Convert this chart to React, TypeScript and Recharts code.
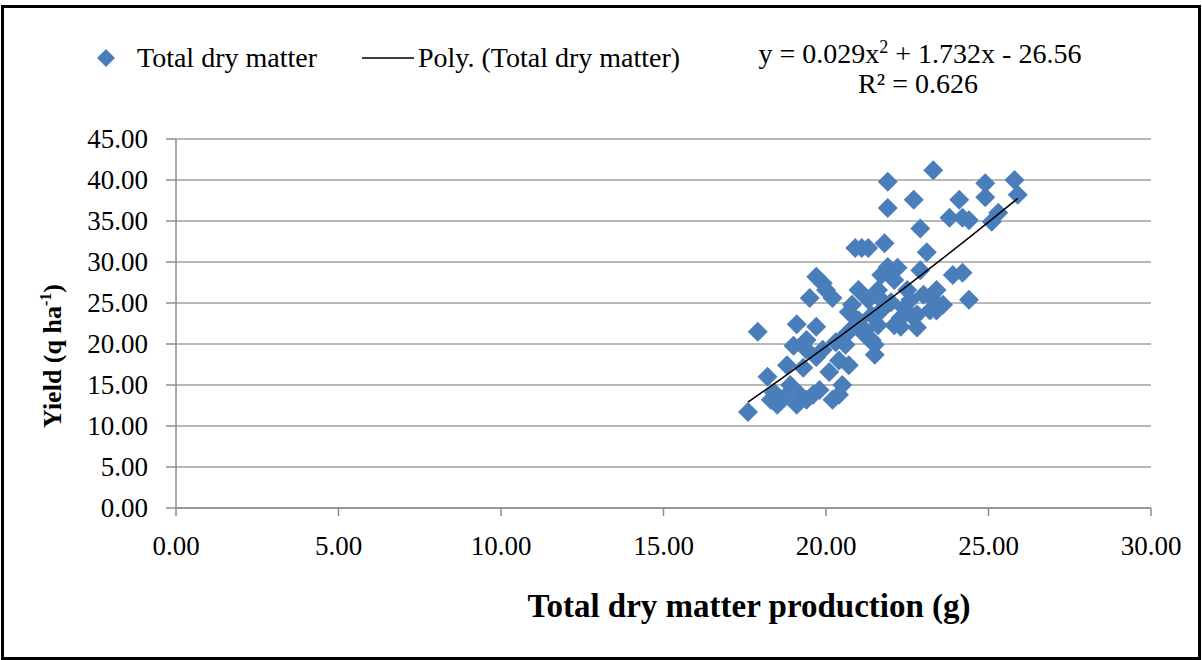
import React from "react"
import { ScatterChart, Scatter, XAxis, YAxis, CartesianGrid } from "recharts"

// total dry matter (g) vs yield (q/ha)
const dryMatter = [
  17.6, 17.9, 18.2, 18.4, 18.5, 18.6, 18.8, 18.9, 19.0, 19.1, 19.1, 19.2, 19.3, 19.4, 19.4, 19.5,
  19.7, 19.7, 19.7, 19.8, 19.9, 20.0, 20.1, 20.2, 20.2, 20.3, 20.4, 20.5, 20.6, 20.7, 20.7, 20.8,
  20.9, 21.0, 21.0, 21.1, 21.2, 21.3, 21.3, 21.4, 21.4, 21.5, 21.6, 21.7, 21.7, 21.8, 21.9, 21.9,
  21.9, 22.0, 22.1, 22.1, 22.2, 22.3, 22.4, 22.5, 22.6, 22.7, 22.7, 22.8, 22.9, 22.9, 23.0, 23.1,
  23.2, 23.3, 23.3, 23.4, 23.6, 23.8, 23.9, 24.1, 24.2, 24.2, 24.4, 24.4, 24.9, 24.9, 25.1, 25.3,
  25.8, 25.9, 18.3, 18.7, 19.4, 20.6, 21.2, 21.5, 21.6, 22.3, 22.8, 23.4, 21.7, 20.9, 19.9, 20.4,
  19.6,
]
const yieldQ = [
  11.7, 21.5, 16.0, 14.1, 12.6, 13.2, 17.4, 15.0, 19.8, 22.4, 12.6, 13.8, 17.1, 13.2, 19.3, 25.6,
  28.2, 22.1, 18.4, 14.4, 27.4, 26.6, 16.6, 25.6, 13.2, 20.2, 18.0, 15.0, 21.1, 23.9, 17.4, 24.8,
  31.7, 26.6, 22.9, 31.7, 21.7, 31.7, 25.4, 20.5, 23.5, 18.7, 26.6, 24.1, 28.4, 32.3, 36.6, 39.8,
  29.4, 25.1, 22.3, 27.8, 29.3, 22.1, 24.4, 26.6, 25.4, 37.6, 23.2, 22.0, 34.1, 29.0, 26.0, 31.2,
  24.1, 41.2, 25.4, 26.6, 24.8, 35.4, 28.4, 37.6, 28.7, 35.4, 25.4, 35.1, 39.6, 37.9, 34.9, 36.0,
  40.0, 38.2, 13.2, 13.4, 20.5, 19.9, 21.1, 19.9, 22.3, 23.2, 23.6, 24.1, 25.4, 22.3, 19.3, 13.8,
  13.8,
]

// Excel trendline shown in the chart
const polyCoef = [0.029, 1.732, -26.56]
const trendX = [17.6, 18.5, 19.5, 20.5, 21.5, 22.5, 23.5, 24.5, 25.9]

const xTicks = [0, 5, 10, 15, 20, 25, 30]
const yTicks = [0, 5, 10, 15, 20, 25, 30, 35, 40, 45]

const points = dryMatter.map((x, i) => ({ x, y: yieldQ[i] }))
const trend = trendX.map((x) => ({ x, y: polyCoef[0] * x * x + polyCoef[1] * x + polyCoef[2] }))

const BLUE = "#4a7ebb"
const FONT = "Liberation Serif"

const Diamond = (props: any) => {
  const { cx, cy } = props
  const r = 10
  return <polygon points={`${cx},${cy - r} ${cx + r},${cy} ${cx},${cy + r} ${cx - r},${cy}`} fill={BLUE} />
}

const NoDot = () => <g />

const XTick = (props: any) => {
  const { x, y, payload } = props
  return (
    <text x={x} y={y} dy={19} textAnchor="middle" fontSize={27} fontFamily={FONT} fill="#000">
      {payload.value.toFixed(2)}
    </text>
  )
}

const YTick = (props: any) => {
  const { x, y, payload } = props
  return (
    <text x={x} y={y} dy={9} textAnchor="end" fontSize={27} fontFamily={FONT} fill="#000">
      {payload.value.toFixed(2)}
    </text>
  )
}

export default function App() {
  return (
    <div style={{ position: "absolute", left: 0, top: 0, width: 1202, height: 660, background: "#fff" }}>
      <div style={{ position: "absolute", left: 1, top: 5, width: 1194, height: 649, border: "3px solid #000" }} />
      <ScatterChart width={1202} height={660} margin={{ top: 139, right: 51, left: 76, bottom: 92 }}>
        <CartesianGrid horizontal vertical={false} stroke="#a0a0a0" strokeWidth={1.5} />
        <XAxis
          type="number"
          dataKey="x"
          domain={[0, 30]}
          ticks={xTicks}
          height={60}
          tick={<XTick />}
          tickSize={8}
          tickMargin={20}
          stroke="#8c8c8c"
          strokeWidth={1.5}
        />
        <YAxis
          type="number"
          dataKey="y"
          domain={[0, 45]}
          ticks={yTicks}
          width={100}
          tick={<YTick />}
          tickSize={10}
          tickMargin={18}
          stroke="#8c8c8c"
          strokeWidth={1.5}
        />
        <Scatter data={points} fill={BLUE} shape={<Diamond />} isAnimationActive={false} />
        <Scatter data={trend} line={{ stroke: "#000", strokeWidth: 1.5 }} shape={<NoDot />} isAnimationActive={false} />
      </ScatterChart>
      <svg width={1202} height={660} style={{ position: "absolute", left: 0, top: 0, pointerEvents: "none" }}>
        <polygon points="106,49 115,58 106,67 97,58" fill={BLUE} />
        <text x={137} y={67} fontSize={28} fontFamily={FONT}>Total dry matter</text>
        <line x1={362} y1={58} x2={414} y2={58} stroke="#000" strokeWidth={1.5} />
        <text x={418} y={67} fontSize={28} fontFamily={FONT}>Poly. (Total dry matter)</text>
        <text x={920} y={63} fontSize={28} fontFamily={FONT} textAnchor="middle">
          y = 0.029x<tspan dy={-10} fontSize={18}>2</tspan><tspan dy={10}> + 1.732x - 26.56</tspan>
        </text>
        <text x={918} y={93} fontSize={28} fontFamily={FONT} textAnchor="middle">R² = 0.626</text>
        <text
          transform="translate(61,356) rotate(-90)"
          fontSize={26}
          fontWeight="bold"
          fontFamily={FONT}
          textAnchor="middle"
        >
          Yield (q ha<tspan dy={-10} fontSize={16}>-1</tspan><tspan dy={10}>)</tspan>
        </text>
        <text x={749} y={617} fontSize={33} fontWeight="bold" fontFamily={FONT} textAnchor="middle">
          Total dry matter production (g)
        </text>
      </svg>
    </div>
  )
}
